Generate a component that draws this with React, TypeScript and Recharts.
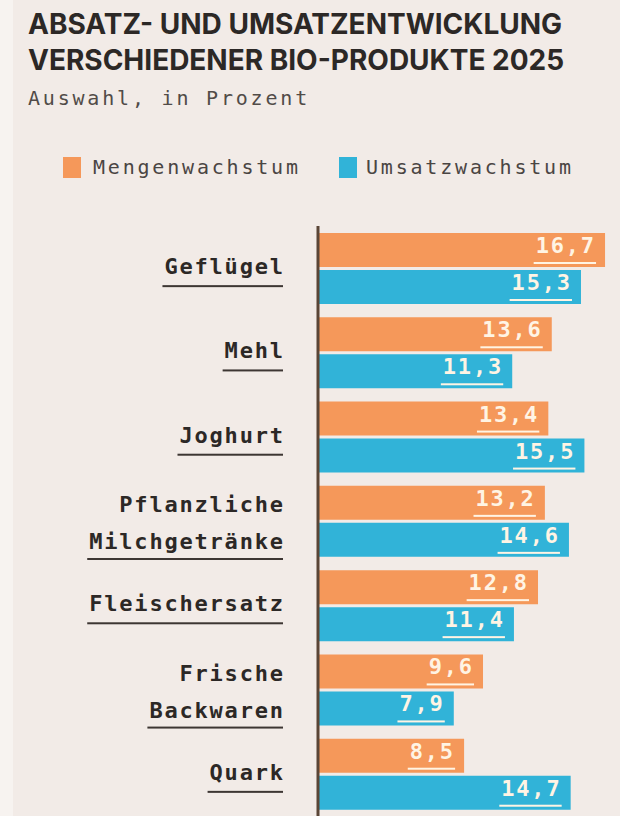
import React from "react";
import { BarChart, Bar, XAxis, YAxis, LabelList } from "recharts";

const categories = [
  "Geflügel",
  "Mehl",
  "Joghurt",
  "Pflanzliche Milchgetränke",
  "Fleischersatz",
  "Frische Backwaren",
  "Quark",
];
const mengenwachstum = [16.7, 13.6, 13.4, 13.2, 12.8, 9.6, 8.5];
const umsatzwachstum = [15.3, 11.3, 15.5, 14.6, 11.4, 7.9, 14.7];
const seriesNames = ["Mengenwachstum", "Umsatzwachstum"];
const titleLines = ["ABSATZ- UND UMSATZENTWICKLUNG", "VERSCHIEDENER BIO-PRODUKTE 2025"];
const subtitle = "Auswahl, in Prozent";

const ORANGE = "#f5985a";
const BLUE = "#31b3d8";
const BG = "#f2ebe7";
const DARK = "#2c2826";
const MONO = "'DejaVu Sans Mono', monospace";

const data = categories.map((c, i) => ({
  name: c,
  menge: mengenwachstum[i],
  umsatz: umsatzwachstum[i],
}));

const CategoryTick = (props: any) => {
  const { y, payload } = props;
  const words: string[] = String(payload.value).split(" ");
  const fs = 22;
  const ls = 1.8;
  const adv = 0.602 * fs + ls;
  const right = 283;
  const offsets = words.length === 1 ? [6] : [-9, 28];
  const ulY = words.length === 1 ? 17 : 37;
  const last = words[words.length - 1];
  const w = last.length * adv - ls + 2;
  return (
    <g>
      {words.map((wd, i) => (
        <text
          key={i}
          x={right + ls}
          y={y + offsets[i]}
          textAnchor="end"
          fontFamily={MONO}
          fontWeight="bold"
          fontSize={fs}
          letterSpacing={ls}
          fill={DARK}
        >
          {wd}
        </text>
      ))}
      <rect x={right - w} y={y + ulY} width={w} height={2} fill="#3d3633" />
    </g>
  );
};

const ValueLabel = (props: any) => {
  const { x, y, width, value } = props;
  const fs = 22;
  const ls = 1.8;
  const txt = Number(value).toFixed(1).replace(".", ",");
  const right = x + width - 11;
  const w = txt.length * (0.602 * fs + ls) - ls;
  return (
    <g>
      <text
        x={right + ls}
        y={y + 20}
        textAnchor="end"
        fontFamily={MONO}
        fontWeight="bold"
        fontSize={fs}
        letterSpacing={ls}
        fill="#fff4e4"
      >
        {txt}
      </text>
      <rect x={right - w - 2} y={y + 29} width={w + 4} height={2} fill="#fff4e4" />
    </g>
  );
};

export default function App() {
  return (
    <div
      style={{
        position: "absolute",
        left: 0,
        top: 0,
        width: 620,
        height: 816,
        background: BG,
        overflow: "hidden",
      }}
    >
      <div style={{ position: "absolute", left: 0, top: 0, width: 13, height: 816, background: "#f7f3f0" }} />
      <svg width={620} height={226} style={{ position: "absolute", left: 0, top: 0 }}>
        {titleLines.map((t, i) => (
          <text
            key={i}
            x={28}
            y={34 + i * 36}
            fontFamily="Inter, 'Noto Sans', sans-serif"
            fontWeight={700}
            fontSize={28}
            fill={DARK}
          >
            {t}
          </text>
        ))}
        <text x={28} y={105} fontFamily={MONO} fontSize={20} letterSpacing={2.8} fill="#514b48">
          {subtitle}
        </text>
        <rect x={63} y={157} width={18} height={21} fill={ORANGE} />
        <text x={93} y={174} fontFamily={MONO} fontSize={20} letterSpacing={2.8} fill="#4a4543">
          {seriesNames[0]}
        </text>
        <rect x={339} y={157} width={18} height={21} fill={BLUE} />
        <text x={366} y={174} fontFamily={MONO} fontSize={20} letterSpacing={2.8} fill="#4a4543">
          {seriesNames[1]}
        </text>
      </svg>
      <div style={{ position: "absolute", left: 0, top: 226 }}>
        <BarChart
          width={620}
          height={590}
          data={data}
          layout="vertical"
          margin={{ top: 0, right: 0, bottom: 0, left: 0 }}
          barSize={34}
          barGap={3}
        >
          <XAxis type="number" hide domain={[0, 17.57]} />
          <YAxis
            type="category"
            dataKey="name"
            width={318}
            axisLine={{ stroke: "#5a4536", strokeWidth: 3 }}
            tickLine={false}
            tick={<CategoryTick />}
            interval={0}
          />
          <Bar dataKey="menge" name={seriesNames[0]} fill={ORANGE} isAnimationActive={false}>
            <LabelList dataKey="menge" content={<ValueLabel />} />
          </Bar>
          <Bar dataKey="umsatz" name={seriesNames[1]} fill={BLUE} isAnimationActive={false}>
            <LabelList dataKey="umsatz" content={<ValueLabel />} />
          </Bar>
        </BarChart>
      </div>
    </div>
  );
}
